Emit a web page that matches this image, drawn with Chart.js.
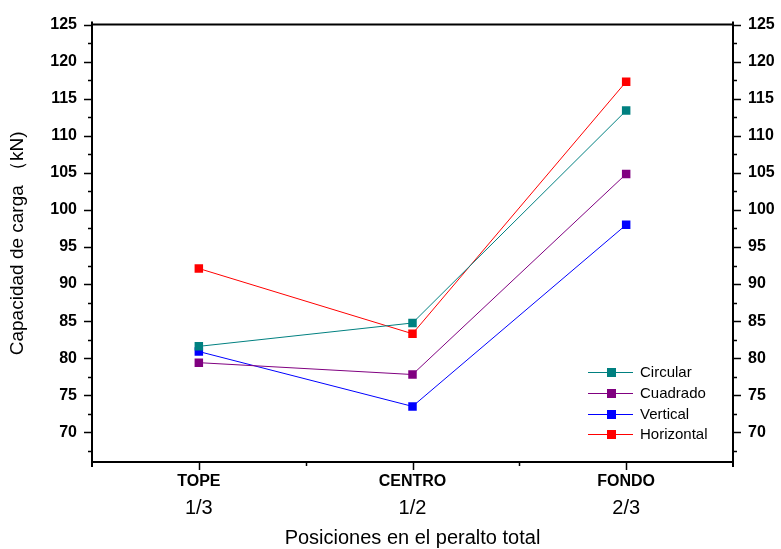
<!DOCTYPE html>
<html>
<head>
<meta charset="utf-8">
<script src="https://cdn.jsdelivr.net/npm/chart.js@4.4.1/dist/chart.umd.min.js"></script>
<style>
  html, body { margin: 0; padding: 0; background: #fff; }
  #wrap { width: 781px; height: 549px; }
</style>
</head>
<body>
<div id="wrap"><canvas id="chart" width="781" height="549"></canvas></div>
<script>
const categories = ["TOPE", "CENTRO", "FONDO"];
const fractions = ["1/3", "1/2", "2/3"];
const seriesNames = ["Circular", "Cuadrado", "Vertical", "Horizontal"];
const circular = [81.6, 84.75, 113.4];
const cuadrado = [79.4, 77.8, 104.85];
const vertical = [80.9, 73.5, 98.0];
const horizontal = [92.1, 83.3, 117.3];
const yTicks = [70, 75, 80, 85, 90, 95, 100, 105, 110, 115, 120, 125];

const colors = ["#008080", "#800080", "#0000ff", "#ff0000"];
const FONT = "'Liberation Sans', Arial, sans-serif";

function toPoints(values) {
  return values.map((v, i) => ({ x: i + 1, y: v }));
}

function makeDataset(label, values, color) {
  return {
    label,
    data: toPoints(values),
    borderColor: color,
    backgroundColor: color,
    borderWidth: 1,
    pointStyle: "rect",
    pointRadius: 6,
    pointBorderWidth: 0,
    pointBackgroundColor: color,
    tension: 0,
  };
}

const framePlugin = {
  id: "frame",
  afterDraw(chart) {
    const { ctx, chartArea } = chart;
    const { left, right, top, bottom } = chartArea;
    const x = chart.scales.x;
    const y = chart.scales.y;

    ctx.save();
    ctx.strokeStyle = "#000";
    ctx.lineWidth = 2;
    ctx.beginPath();
    ctx.moveTo(left, top - 3);
    ctx.lineTo(left, bottom + 5);
    ctx.moveTo(right, top - 3);
    ctx.lineTo(right, bottom + 5);
    ctx.moveTo(left, top);
    ctx.lineTo(right, top);
    ctx.moveTo(left, bottom);
    ctx.lineTo(right, bottom);
    ctx.stroke();

    // y ticks, major every 5, minor every 2.5, pointing outward
    ctx.lineWidth = 1.5;
    ctx.beginPath();
    for (let v = 67.5; v <= 125; v += 2.5) {
      const py = Math.round(y.getPixelForValue(v)) + 0.5;
      const len = v % 5 === 0 ? 8 : 4;
      ctx.moveTo(left, py);
      ctx.lineTo(left - len, py);
      ctx.moveTo(right, py);
      ctx.lineTo(right + len, py);
    }
    // x ticks
    for (let v = 1; v <= 3; v += 0.5) {
      const px = Math.round(x.getPixelForValue(v)) + 0.5;
      const len = v % 1 === 0 ? 8 : 4;
      ctx.moveTo(px, bottom);
      ctx.lineTo(px, bottom + len);
    }
    ctx.stroke();

    // x labels
    ctx.fillStyle = "#000";
    ctx.textAlign = "center";
    ctx.textBaseline = "middle";
    categories.forEach((c, i) => {
      const px = x.getPixelForValue(i + 1);
      ctx.font = "bold 16px " + FONT;
      ctx.fillText(c, px, 482);
      ctx.font = "20px " + FONT;
      ctx.fillText(fractions[i], px, 508);
    });
    ctx.font = "20px " + FONT;
    ctx.fillText("Posiciones en el peralto total", (left + right) / 2, 538);

    ctx.save();
    ctx.font = "19px " + FONT;
    ctx.translate(18, (top + bottom) / 2);
    ctx.rotate(-Math.PI / 2);
    ctx.fillText("Capacidad de carga （kN)", 0, 0);
    ctx.restore();

    // legend
    const rows = [372, 393, 414, 434];
    ctx.textAlign = "left";
    ctx.font = "15px " + FONT;
    chart.data.datasets.forEach((ds, i) => {
      const ry = rows[i];
      ctx.strokeStyle = ds.borderColor;
      ctx.lineWidth = 1;
      ctx.beginPath();
      ctx.moveTo(588, ry + 0.5);
      ctx.lineTo(633, ry + 0.5);
      ctx.stroke();
      ctx.fillStyle = ds.borderColor;
      ctx.fillRect(607, ry - 4, 9, 9);
      ctx.fillStyle = "#000";
      ctx.fillText(ds.label, 640, ry + 1);
    });
    ctx.restore();
  },
};

const yTickOptions = (padding) => ({
  padding,
  color: "#000",
  font: { family: FONT, size: 16, weight: "bold" },
});

new Chart(document.getElementById("chart"), {
  type: "line",
  data: {
    datasets: [
      makeDataset(seriesNames[0], circular, colors[0]),
      makeDataset(seriesNames[1], cuadrado, colors[1]),
      makeDataset(seriesNames[2], vertical, colors[2]),
      makeDataset(seriesNames[3], horizontal, colors[3]),
    ],
  },
  options: {
    responsive: false,
    animation: false,
    layout: { padding: { top: 22, left: 0, right: 0, bottom: 0 } },
    plugins: {
      legend: { display: false },
      tooltip: { enabled: false },
    },
    scales: {
      x: {
        type: "linear",
        min: 0.5,
        max: 3.5,
        grid: { display: false },
        border: { display: false },
        ticks: { display: false },
        afterFit: (s) => { s.height = 87; },
      },
      y: {
        position: "left",
        min: 66,
        max: 125,
        grid: { display: false, drawTicks: false },
        border: { display: false },
        ticks: yTickOptions(15),
        afterBuildTicks: (s) => { s.ticks = yTicks.map((v) => ({ value: v })); },
        afterFit: (s) => { s.width = 92; },
      },
      y2: {
        position: "right",
        min: 66,
        max: 125,
        grid: { display: false, drawTicks: false },
        border: { display: false },
        ticks: yTickOptions(15),
        afterBuildTicks: (s) => { s.ticks = yTicks.map((v) => ({ value: v })); },
        afterFit: (s) => { s.width = 48; },
      },
    },
  },
  plugins: [framePlugin],
});
</script>
</body>
</html>
